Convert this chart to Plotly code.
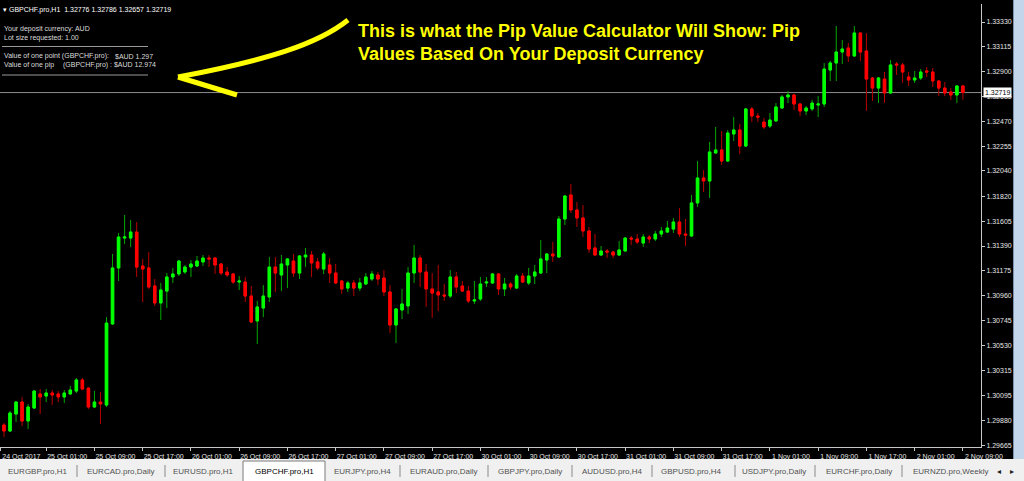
import plotly.graph_objects as go

# ---------------- data (GBPCHF.pro, H1) ----------------
bar_index = list(range(160))

open_ = [1.29840, 1.29788, 1.29935, 1.30039, 1.29875, 1.29987, 1.30109, 1.30091, 1.30117, 1.30109,
         1.30083, 1.30109, 1.30134, 1.30230, 1.30160, 1.29996, 1.30039, 1.30013, 1.30715, 1.31200,
         1.31459, 1.31459, 1.31511, 1.31217, 1.31200, 1.31044, 1.30897, 1.31000, 1.31122, 1.31148,
         1.31165, 1.31208, 1.31217, 1.31252, 1.31286, 1.31286, 1.31234, 1.31165, 1.31148, 1.31078,
         1.31078, 1.30957, 1.30741, 1.30853, 1.30949, 1.31208, 1.31139, 1.31226, 1.31260, 1.31156,
         1.31295, 1.31312, 1.31252, 1.31191, 1.31226, 1.31156, 1.31087, 1.31026, 1.31070, 1.31026,
         1.31061, 1.31104, 1.31139, 1.31113, 1.30992, 1.30706, 1.30836, 1.30871, 1.31156, 1.31286,
         1.31165, 1.31018, 1.30992, 1.30966, 1.30957, 1.31122, 1.31044, 1.31000, 1.30914, 1.30931,
         1.31070, 1.31070, 1.31148, 1.31018, 1.31061, 1.31026, 1.31130, 1.31070, 1.31130, 1.31156,
         1.31269, 1.31321, 1.31295, 1.31624, 1.31832, 1.31702, 1.31633, 1.31520, 1.31373, 1.31312,
         1.31347, 1.31338, 1.31312, 1.31347, 1.31459, 1.31451, 1.31416, 1.31468, 1.31451, 1.31494,
         1.31511, 1.31537, 1.31598, 1.31494, 1.31477, 1.31763, 1.31979, 1.31953, 1.32196, 1.32222,
         1.32126, 1.32360, 1.32395, 1.32256, 1.32577, 1.32516, 1.32464, 1.32429, 1.32473, 1.32585,
         1.32681, 1.32698, 1.32620, 1.32559, 1.32577, 1.32611, 1.32620, 1.32914, 1.32975, 1.33070,
         1.33105, 1.33036, 1.33235, 1.33079, 1.32845, 1.32758, 1.32836, 1.32715, 1.32966, 1.32958,
         1.32854, 1.32828, 1.32845, 1.32906, 1.32897, 1.32819, 1.32758, 1.32724, 1.32698, 1.32776]

high = [1.29857, 1.29961, 1.30048, 1.30083, 1.30022, 1.30143, 1.30152, 1.30152, 1.30143, 1.30134,
        1.30143, 1.30178, 1.30247, 1.30247, 1.30160, 1.30134, 1.30126, 1.30775, 1.31321, 1.31503,
        1.31659, 1.31615, 1.31598, 1.31278, 1.31338, 1.31104, 1.31070, 1.31156, 1.31200, 1.31269,
        1.31226, 1.31269, 1.31304, 1.31312, 1.31312, 1.31295, 1.31243, 1.31208, 1.31156, 1.31130,
        1.31122, 1.31044, 1.30914, 1.31052, 1.31295, 1.31295, 1.31312, 1.31286, 1.31321, 1.31312,
        1.31373, 1.31347, 1.31286, 1.31338, 1.31286, 1.31234, 1.31096, 1.31087, 1.31096, 1.31113,
        1.31156, 1.31174, 1.31165, 1.31182, 1.31052, 1.30853, 1.31018, 1.31208, 1.31399, 1.31312,
        1.31234, 1.31156, 1.31226, 1.31061, 1.31182, 1.31165, 1.31087, 1.31044, 1.31087, 1.31122,
        1.31122, 1.31156, 1.31156, 1.31113, 1.31078, 1.31148, 1.31156, 1.31200, 1.31226, 1.31442,
        1.31330, 1.31425, 1.31650, 1.31832, 1.31927, 1.31771, 1.31745, 1.31555, 1.31494, 1.31390,
        1.31364, 1.31347, 1.31433, 1.31468, 1.31477, 1.31494, 1.31494, 1.31485, 1.31520, 1.31555,
        1.31607, 1.31633, 1.31719, 1.31624, 1.31832, 1.32126, 1.32048, 1.32291, 1.32421, 1.32386,
        1.32395, 1.32507, 1.32447, 1.32585, 1.32594, 1.32542, 1.32499, 1.32542, 1.32628, 1.32698,
        1.32732, 1.32707, 1.32628, 1.32603, 1.32655, 1.32689, 1.32975, 1.32992, 1.33295, 1.33174,
        1.33148, 1.33295, 1.33243, 1.33235, 1.32854, 1.32854, 1.32897, 1.33001, 1.32984, 1.32975,
        1.32897, 1.32906, 1.32923, 1.32940, 1.32932, 1.32828, 1.32810, 1.32758, 1.32784, 1.32786]

low = [1.29736, 1.29779, 1.29866, 1.29831, 1.29805, 1.29979, 1.29935, 1.30039, 1.30013, 1.30039,
       1.30031, 1.30100, 1.30117, 1.30143, 1.29979, 1.29987, 1.29849, 1.29996, 1.30706, 1.31087,
       1.31408, 1.31382, 1.31122, 1.30905, 1.31018, 1.30871, 1.30749, 1.30853, 1.31070, 1.31130,
       1.31148, 1.31122, 1.31208, 1.31217, 1.31208, 1.31148, 1.31139, 1.31122, 1.31061, 1.31009,
       1.30905, 1.30723, 1.30542, 1.30775, 1.30905, 1.30992, 1.31000, 1.31026, 1.31122, 1.31104,
       1.31208, 1.31122, 1.31182, 1.31148, 1.31070, 1.31061, 1.30975, 1.30992, 1.30957, 1.31000,
       1.31052, 1.31087, 1.31052, 1.30957, 1.30637, 1.30550, 1.30758, 1.30801, 1.31070, 1.31035,
       1.30862, 1.30767, 1.30827, 1.30914, 1.30940, 1.30983, 1.30992, 1.30897, 1.30888, 1.30914,
       1.31035, 1.31061, 1.30966, 1.30957, 1.31009, 1.31018, 1.31070, 1.31052, 1.31061, 1.31148,
       1.31156, 1.31252, 1.31286, 1.31572, 1.31676, 1.31555, 1.31468, 1.31330, 1.31304, 1.31304,
       1.31286, 1.31286, 1.31304, 1.31338, 1.31399, 1.31408, 1.31382, 1.31416, 1.31433, 1.31468,
       1.31503, 1.31503, 1.31468, 1.31390, 1.31468, 1.31728, 1.31858, 1.31806, 1.32187, 1.32092,
       1.32118, 1.32299, 1.32187, 1.32247, 1.32464, 1.32464, 1.32403, 1.32412, 1.32464, 1.32577,
       1.32628, 1.32568, 1.32516, 1.32525, 1.32559, 1.32507, 1.32594, 1.32819, 1.32819, 1.32966,
       1.32984, 1.33027, 1.32992, 1.32559, 1.32646, 1.32628, 1.32628, 1.32707, 1.32871, 1.32802,
       1.32776, 1.32802, 1.32828, 1.32854, 1.32767, 1.32689, 1.32689, 1.32655, 1.32628, 1.32657]

close = [1.29788, 1.29944, 1.30039, 1.29875, 1.29996, 1.30134, 1.30083, 1.30117, 1.30100, 1.30083,
         1.30117, 1.30143, 1.30230, 1.30152, 1.29996, 1.30039, 1.30022, 1.30723, 1.31200, 1.31468,
         1.31468, 1.31511, 1.31208, 1.31191, 1.31035, 1.30897, 1.31009, 1.31122, 1.31148, 1.31260,
         1.31208, 1.31234, 1.31260, 1.31286, 1.31278, 1.31226, 1.31156, 1.31139, 1.31078, 1.31087,
         1.30957, 1.30732, 1.30862, 1.30957, 1.31208, 1.31156, 1.31234, 1.31278, 1.31156, 1.31304,
         1.31312, 1.31243, 1.31200, 1.31321, 1.31156, 1.31070, 1.31018, 1.31070, 1.31026, 1.31070,
         1.31122, 1.31148, 1.31104, 1.30992, 1.30706, 1.30845, 1.30888, 1.31156, 1.31286, 1.31165,
         1.31018, 1.30983, 1.30966, 1.30957, 1.31122, 1.31035, 1.31000, 1.30914, 1.30923, 1.31061,
         1.31078, 1.31148, 1.31018, 1.31061, 1.31035, 1.31130, 1.31078, 1.31130, 1.31165, 1.31278,
         1.31321, 1.31304, 1.31624, 1.31823, 1.31702, 1.31633, 1.31520, 1.31364, 1.31312, 1.31347,
         1.31338, 1.31312, 1.31356, 1.31459, 1.31451, 1.31425, 1.31468, 1.31451, 1.31494, 1.31520,
         1.31546, 1.31598, 1.31494, 1.31485, 1.31763, 1.31979, 1.31953, 1.32204, 1.32222, 1.32126,
         1.32369, 1.32395, 1.32256, 1.32577, 1.32516, 1.32507, 1.32421, 1.32481, 1.32594, 1.32681,
         1.32698, 1.32620, 1.32559, 1.32585, 1.32628, 1.32620, 1.32923, 1.32975, 1.33070, 1.33096,
         1.33036, 1.33235, 1.33070, 1.32836, 1.32758, 1.32845, 1.32715, 1.32958, 1.32958, 1.32897,
         1.32828, 1.32845, 1.32897, 1.32897, 1.32819, 1.32758, 1.32715, 1.32698, 1.32776, 1.32719]

time_tick_pos = [-0.6, 7, 15, 23, 31, 39, 47, 55, 63, 71, 79, 87, 95, 103, 111, 119, 127, 135, 143, 151, 159]
time_tick_labels = ["24 Oct 2017", "25 Oct 01:00", "25 Oct 09:00", "25 Oct 17:00", "26 Oct 01:00",
                    "26 Oct 09:00", "26 Oct 17:00", "27 Oct 01:00", "27 Oct 09:00", "27 Oct 17:00",
                    "30 Oct 01:00", "30 Oct 09:00", "30 Oct 17:00", "31 Oct 01:00", "31 Oct 09:00",
                    "31 Oct 17:00", "1 Nov 01:00", "1 Nov 09:00", "1 Nov 17:00", "2 Nov 01:00", "2 Nov 09:00"]
price_ticks = [1.33330, 1.33115, 1.32900, 1.32685, 1.32470, 1.32255, 1.32040, 1.31820, 1.31605,
               1.31390, 1.31175, 1.30960, 1.30745, 1.30530, 1.30315, 1.30095, 1.29880, 1.29665]

tab_names = ["EURGBP.pro,H1", "EURCAD.pro,Daily", "EURUSD.pro,H1", "GBPCHF.pro,H1", "EURJPY.pro,H4",
             "EURAUD.pro,Daily", "GBPJPY.pro,Daily", "AUDUSD.pro,H4", "GBPUSD.pro,H4", "USDJPY.pro,Daily",
             "EURCHF.pro,Daily", "EURNZD.pro,Weekly"]
active_tab = "GBPCHF.pro,H1"

# ---------------- layout helpers (pixel -> paper) ----------------
W, H = 1024, 481
ML, MR, MT, MB = 0, 43, 4, 34
PW, PH = W - ML - MR, H - MT - MB


def px(x):
    return (x - ML) / PW


def py(y):
    return (H - MB - y) / PH


FONT = "Liberation Sans, Arial, sans-serif"

body_hi = [max(o, c) for o, c in zip(open_, close)]
body_lo = [min(o, c) for o, c in zip(open_, close)]

fig = go.Figure()
# wicks
fig.add_trace(go.Candlestick(
    x=bar_index, open=open_, high=high, low=low, close=close,
    increasing=dict(line=dict(color="#00a800", width=1), fillcolor="#00a800"),
    decreasing=dict(line=dict(color="#b80000", width=1), fillcolor="#b80000"),
    whiskerwidth=0, showlegend=False, hoverinfo="skip"))
# bodies
fig.add_trace(go.Candlestick(
    x=bar_index, open=open_, high=body_hi, low=body_lo, close=close,
    increasing=dict(line=dict(color="#00ff00", width=1), fillcolor="#00ff00"),
    decreasing=dict(line=dict(color="#ff0000", width=1), fillcolor="#ff0000"),
    whiskerwidth=0, showlegend=False, name="GBPCHF.pro,H1"))

shapes = []
annotations = []

# bid line
shapes.append(dict(type="line", xref="paper", x0=0, x1=1, yref="y", y0=close[-1], y1=close[-1],
                   line=dict(color="#8c8c8c", width=1), layer="below"))
# price label
annotations.append(dict(xref="paper", yref="y", x=px(982.5), y=close[-1], xanchor="left", yanchor="middle",
                        text=f"{close[-1]:.5f}", showarrow=False, bgcolor="#ffffff", borderpad=1,
                        font=dict(family=FONT, size=7, color="#000000")))

# header
annotations.append(dict(xref="paper", yref="paper", x=px(1), y=py(10), xanchor="left", yanchor="middle",
                        text="\u25be GBPCHF.pro,H1\u00a0\u00a0" + " ".join(
                            f"{v:.5f}" for v in (open_[-1], high[-1], low[-1], close[-1])),
                        showarrow=False, font=dict(family=FONT, size=7, color="#ffffff")))

info_col = "#dcdcdc"
info = [
    (2, 29, "Your deposit currency: AUD"),
    (2, 38, "Lot size requested: 1.00"),
    (2, 56, "Value of one point (GBPCHF.pro):"),
    (113, 56, "$AUD 1.297"),
    (2, 65, "Value of one pip"),
    (61, 65, "(GBPCHF.pro) : $AUD 12.974"),
]
for x, y, t in info:
    annotations.append(dict(xref="paper", yref="paper", x=px(x), y=py(y), xanchor="left", yanchor="middle",
                            text=t, showarrow=False, font=dict(family=FONT, size=7, color=info_col)))
for yy in (46.5, 75):
    shapes.append(dict(type="line", xref="paper", yref="paper", x0=px(2), x1=px(148), y0=py(yy), y1=py(yy),
                       line=dict(color="#9a9a9a", width=1)))

# yellow callout
annotations.append(dict(xref="paper", yref="paper", x=px(356), y=py(31.5), xanchor="left", yanchor="middle",
                        text="<b>This is what the Pip Value Calculator Will Show: Pip</b>", showarrow=False,
                        font=dict(family=FONT, size=18, color="#ffff00")))
annotations.append(dict(xref="paper", yref="paper", x=px(356), y=py(53.5), xanchor="left", yanchor="middle",
                        text="<b>Values Based On Your Deposit Currency</b>", showarrow=False,
                        font=dict(family=FONT, size=18, color="#ffff00")))
arrow_path = (f"M {px(348)},{py(20)} C {px(318)},{py(44)} {px(268)},{py(60)} {px(178)},{py(77)} "
              f"M {px(178)},{py(77)} L {px(237)},{py(95)}")
shapes.append(dict(type="path", xref="paper", yref="paper", path=arrow_path,
                   line=dict(color="#ffff00", width=5)))

# right window frame
shapes.append(dict(type="rect", xref="paper", yref="paper", x0=px(1013), x1=px(1025), y0=py(459), y1=py(-2),
                   fillcolor="#c3d5ea", line=dict(width=0), layer="above"))
shapes.append(dict(type="line", xref="paper", yref="paper", x0=px(1013.5), x1=px(1013.5), y0=py(459), y1=py(-2),
                   line=dict(color="#7d93ad", width=1)))

# tab bar
shapes.append(dict(type="rect", xref="paper", yref="paper", x0=px(-2), x1=px(1026), y0=py(482), y1=py(459),
                   fillcolor="#f0f0f0", line=dict(width=0), layer="above"))
shapes.append(dict(type="rect", xref="paper", yref="paper", x0=px(243), x1=px(325), y0=py(482), y1=py(461),
                   fillcolor="#ffffff", line=dict(color="#7a7a7a", width=1), layer="above"))
tab_centers = [37.5, 120.5, 203, 284, 362, 443.5, 530, 612, 691.5, 773.5, 858.5, 950]
sep_x = [77, 165, 400, 488, 572, 652, 735, 815, 902]
for name, cx in zip(tab_names, tab_centers):
    annotations.append(dict(xref="paper", yref="paper", x=px(cx), y=py(471), xanchor="center", yanchor="middle",
                            text=name, showarrow=False,
                            font=dict(family=FONT, size=8, color="#000000" if name == active_tab else "#505050")))
for sx in sep_x:
    shapes.append(dict(type="line", xref="paper", yref="paper", x0=px(sx), x1=px(sx), y0=py(465), y1=py(477),
                       line=dict(color="#8a8a8a", width=1), layer="above"))
for cx, t in ((999, "\u25c2"), (1012, "\u25b8")):
    annotations.append(dict(xref="paper", yref="paper", x=px(cx), y=py(471), xanchor="center", yanchor="middle",
                            text=t, showarrow=False, font=dict(family=FONT, size=8, color="#202020")))

fig.update_layout(
    width=W, height=H,
    margin=dict(l=ML, r=MR, t=MT, b=MB, pad=0, autoexpand=False),
    paper_bgcolor="#000000", plot_bgcolor="#000000",
    boxgap=0.42,
    showlegend=False,
    shapes=shapes, annotations=annotations,
    xaxis=dict(range=[-0.66, 162.0], tickmode="array", tickvals=time_tick_pos, ticktext=time_tick_labels,
               ticks="outside", ticklen=3, tickcolor="#c8c8c8", showline=True, linecolor="#c8c8c8",
               linewidth=1, showgrid=False, zeroline=False, ticklabelshift=21, automargin=False,
               tickfont=dict(family=FONT, size=7, color="#e6e6e6"),
               rangeslider=dict(visible=False), fixedrange=True),
    yaxis=dict(range=[1.296495, 1.334859], side="right", tickmode="array", tickvals=price_ticks,
               ticktext=[f"{v:.5f}" for v in price_ticks], automargin=False,
               ticks="outside", ticklen=3, tickcolor="#c8c8c8", showline=True, linecolor="#c8c8c8",
               linewidth=1, showgrid=False, zeroline=False,
               tickfont=dict(family=FONT, size=7, color="#e6e6e6"), fixedrange=True),
)

fig.write_html("out.html", config={"displayModeBar": False},
               post_script="document.body.style.margin='0px';document.body.style.overflow='hidden';"
                           "document.body.style.background='#000';")
